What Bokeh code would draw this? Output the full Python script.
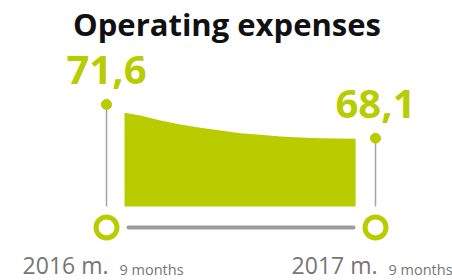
from bokeh.plotting import figure
from bokeh.models import Range1d, Label
from bokeh.embed import file_html
from bokeh.resources import INLINE
from bokeh.core.properties import value

# ---------------- data ----------------
title = "Operating expenses"
years = ["2016 m.", "2017 m."]
periods = ["9 months", "9 months"]
expenses = [71.6, 68.1]
expense_labels = ["71,6", "68,1"]
# outline of the green area (position between the two periods, value)
curve_pos = [0.067, 0.126, 0.201, 0.275, 0.349, 0.424, 0.498, 0.572, 0.647, 0.721, 0.796, 0.926]
curve_val = [70.74, 70.46, 69.94, 69.52, 69.18, 68.90, 68.62, 68.45, 68.28, 68.17, 68.10, 68.04]

# ---------------- layout / style ----------------
GREEN = "#b8cc00"
GREY_LINE = "#a3a3a3"
GREY_AXIS = "#9b9b9b"
GREY_TEXT = "#767676"
W, H = 452, 280
BASE = 61.0      # bottom of the area / end of the stems
RING = 58.83     # level of the period markers
GAP = 0.082      # inset of the connecting line from the markers

x_pos = list(range(len(years)))

p = figure(width=W, height=H, output_backend="svg", toolbar_location=None,
           x_range=Range1d(-0.3941, 1.2862), y_range=Range1d(53.32, 82.40),
           x_axis_location=None, y_axis_location=None,
           min_border=0, outline_line_color=None)
p.xgrid.grid_line_color = None
p.ygrid.grid_line_color = None
p.background_fill_color = "white"
p.border_fill_color = "white"

# area
p.varea(x=curve_pos, y1=BASE, y2=curve_val, fill_color=GREEN)

# stems
p.segment(x0=x_pos, y0=expenses, x1=x_pos, y1=[BASE] * len(x_pos),
          line_color=GREY_LINE, line_width=1.5)
p.scatter(x=x_pos, y=expenses, size=10, color=GREEN)

# timeline
p.line(x=[x_pos[0] + GAP, x_pos[-1] - GAP], y=[RING, RING],
       line_color=GREY_AXIS, line_width=4, line_cap="round")
p.scatter(x=x_pos, y=[RING] * len(x_pos), size=21, fill_color="white",
          line_color=GREEN, line_width=5)

# value labels
p.text(x=x_pos, y=expenses, text=expense_labels, text_align="center",
       text_baseline="alphabetic", y_offset=-34,
       text_font=value("Open Sans"), text_font_style="bold",
       text_font_size="40px", text_color=GREEN)

# period labels
p.text(x=x_pos, y=[RING] * len(x_pos), text=years, text_align="right",
       text_baseline="alphabetic", x_offset=2, y_offset=38,
       text_font=value("Open Sans"), text_font_size="23px", text_color=GREY_TEXT)
p.text(x=x_pos, y=[RING] * len(x_pos), text=periods, text_align="left",
       text_baseline="alphabetic", x_offset=13, y_offset=42,
       text_font=value("Open Sans"), text_font_size="14.5px", text_color=GREY_TEXT)

# title
p.add_layout(Label(x=226.5, x_units="screen", y=79.91, y_units="data", text=title,
                   text_align="center", text_baseline="alphabetic",
                   text_font="Open Sans", text_font_style="bold",
                   text_font_size="31px", text_color="#111111"))

open("out.html", "w").write(file_html(p, INLINE))
